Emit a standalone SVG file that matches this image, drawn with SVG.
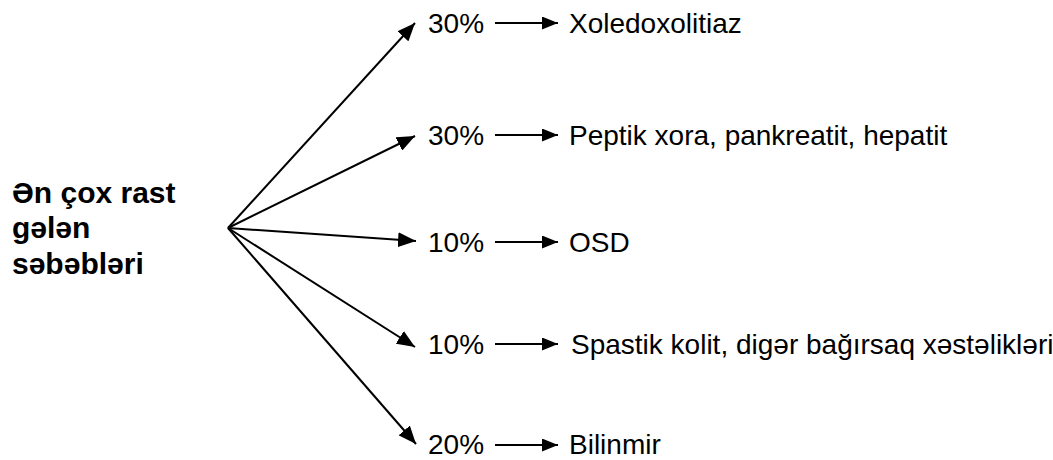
<svg xmlns="http://www.w3.org/2000/svg" width="1053" height="460" viewBox="0 0 1053 460">
  <style>
    .lbl { font-family: "Liberation Sans", Arial, sans-serif; font-size: 28px; fill: #000; }
    .ttl { font-family: "Liberation Sans", Arial, sans-serif; font-size: 30px; font-weight: bold; fill: #000; }
    .ln { stroke: #000; stroke-width: 2; fill: none; }
  </style>
  <defs>
    <marker id="head" viewBox="0 0 18 15" refX="18" refY="7.5" markerWidth="18" markerHeight="15" markerUnits="userSpaceOnUse" orient="auto">
      <path d="M0,0 L18,7.5 L0,15 Z" fill="#000"/>
    </marker>
    <marker id="headS" viewBox="0 0 16 13" refX="16" refY="6.5" markerWidth="16" markerHeight="13" markerUnits="userSpaceOnUse" orient="auto">
      <path d="M0,0 L16,6.5 L0,13 Z" fill="#000"/>
    </marker>
  </defs>
  <rect width="1053" height="460" fill="#fff"/>

  <g id="source">
    <text class="ttl" x="12" y="203">Ən çox rast</text>
    <text class="ttl" x="12" y="238">gələn</text>
    <text class="ttl" x="12" y="274">səbəbləri</text>
  </g>

  <g id="connectors">
    <!-- fan from the source to each share -->
    <line class="ln" x1="228" y1="228" x2="415" y2="23" marker-end="url(#head)"/>
    <line class="ln" x1="228" y1="228" x2="415" y2="136" marker-end="url(#head)"/>
    <line class="ln" x1="228" y1="228" x2="416" y2="241" marker-end="url(#head)"/>
    <line class="ln" x1="228" y1="228" x2="415" y2="347" marker-end="url(#head)"/>
    <line class="ln" x1="228" y1="228" x2="416" y2="444" marker-end="url(#head)"/>
    <!-- share to cause -->
    <line class="ln" x1="495" y1="23" x2="558" y2="23" marker-end="url(#headS)"/>
    <line class="ln" x1="495" y1="135" x2="558" y2="135" marker-end="url(#headS)"/>
    <line class="ln" x1="495" y1="242" x2="558" y2="242" marker-end="url(#headS)"/>
    <line class="ln" x1="495" y1="344" x2="558" y2="344" marker-end="url(#headS)"/>
    <line class="ln" x1="495" y1="445" x2="558" y2="445" marker-end="url(#headS)"/>
  </g>

  <g id="row1">
    <text class="lbl" x="428" y="33">30%</text>
    <text class="lbl" x="569" y="33">Xoledoxolitiaz</text>
  </g>
  <g id="row2">
    <text class="lbl" x="428" y="145">30%</text>
    <text class="lbl" x="569" y="145">Peptik xora, pankreatit, hepatit</text>
  </g>
  <g id="row3">
    <text class="lbl" x="428" y="252">10%</text>
    <text class="lbl" x="569" y="252">OSD</text>
  </g>
  <g id="row4">
    <text class="lbl" x="428" y="354">10%</text>
    <text class="lbl" x="571" y="354">Spastik kolit, digər bağırsaq xəstəlikləri</text>
  </g>
  <g id="row5">
    <text class="lbl" x="428" y="454">20%</text>
    <text class="lbl" x="569" y="454">Bilinmir</text>
  </g>
</svg>
